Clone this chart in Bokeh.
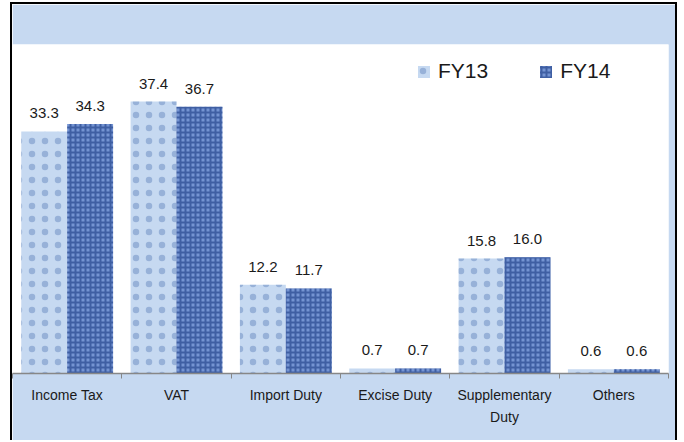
from bokeh.plotting import figure
from bokeh.models import ColumnDataSource, FixedTicker, Range1d, Legend, LegendItem
from bokeh.core.properties import value
from bokeh.embed import file_html
from bokeh.resources import INLINE

categories = ["Income Tax", "VAT", "Import Duty", "Excise Duty", "Supplementary Duty", "Others"]
tick_labels = ["Income Tax", "VAT", "Import Duty", "Excise Duty", "Supplementary\nDuty", "Others"]
fy13 = [33.3, 37.4, 12.2, 0.7, 15.8, 0.6]
fy14 = [34.3, 36.7, 11.7, 0.7, 16.0, 0.6]
series_names = ["FY13", "FY14"]

LIGHT = "#C6D9F1"
FONT = "Liberation Sans"

n = len(categories)
centers = [i + 0.5 for i in range(n)]
off = 0.21
bw = 0.42

src13 = ColumnDataSource(dict(x=[c - off for c in centers], top=fy13,
                              lbl=["%.1f" % v for v in fy13]))
src14 = ColumnDataSource(dict(x=[c + off for c in centers], top=fy14,
                              lbl=["%.1f" % v for v in fy14]))

p = figure(width=667, height=438, output_backend="svg", toolbar_location=None,
           x_range=Range1d(0, n), y_range=Range1d(0, 45.25),
           min_border_left=0, min_border_right=11, min_border_top=40, min_border_bottom=69,
           styles={"margin-left": "10px", "margin-top": "2px",
                   "border-top": "2px solid black", "border-left": "2px solid black",
                   "border-right": "2px solid black"})
p.border_fill_color = LIGHT
p.background_fill_color = "white"
p.outline_line_color = None
p.grid.visible = False
p.yaxis.visible = False

r13 = p.vbar(x="x", top="top", width=bw, source=src13, fill_color=LIGHT, line_color=None,
             hatch_pattern="dot", hatch_color="#3E66AA", hatch_scale=13, hatch_alpha=0.35)
r14 = p.vbar(x="x", top="top", width=bw, source=src14, fill_color="#7594D2", line_color=None,
             hatch_pattern="cross", hatch_color="#22428A", hatch_scale=5, hatch_weight=2,
             hatch_alpha=0.65)

for s in (src13, src14):
    p.text(x="x", y="top", text="lbl", source=s, text_align="center",
           text_baseline="alphabetic", y_offset=-18, text_font=value(FONT),
           text_font_size="15px", text_color="#1A1A1A")

ax = p.xaxis[0]
ax.ticker = FixedTicker(ticks=centers, minor_ticks=list(range(n + 1)))
ax.major_label_overrides = {c: t for c, t in zip(centers, tick_labels)}
ax.major_tick_out = 0
ax.major_tick_in = 0
ax.minor_tick_out = 5
ax.minor_tick_in = 0
ax.minor_tick_line_color = "#878787"
ax.axis_line_color = "#878787"
ax.axis_line_width = 1.5
ax.major_label_standoff = 8
ax.major_label_text_font = FONT
ax.major_label_text_font_size = "14px"
ax.major_label_text_color = "#1A1A1A"
ax.major_label_text_line_height = 1.4

legend = Legend(items=[LegendItem(label=series_names[0], renderers=[r13]),
                       LegendItem(label=series_names[1], renderers=[r14])],
                orientation="horizontal", location=(404, 290),
                glyph_width=15, glyph_height=15, label_standoff=7, spacing=50,
                padding=0, margin=0, label_text_font=FONT, label_text_font_size="21px",
                label_text_color="#1A1A1A", background_fill_alpha=0, border_line_alpha=0)
p.add_layout(legend, "center")

open("out.html", "w").write(file_html(p, INLINE))
